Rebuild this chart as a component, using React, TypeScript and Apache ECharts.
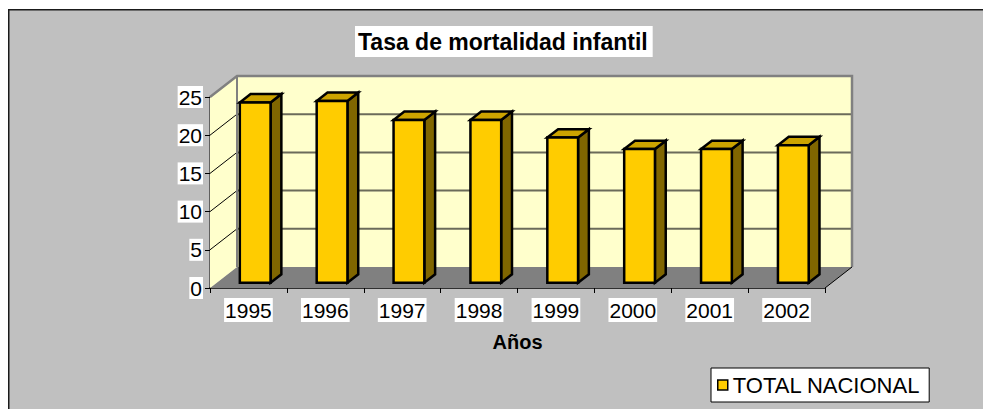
import React, { useEffect, useRef } from "react";
import * as echarts from "echarts";

const categories = ["1995", "1996", "1997", "1998", "1999", "2000", "2001", "2002"];
const values = [23.6, 23.8, 21.3, 21.3, 19.0, 17.5, 17.5, 18.0];
const yTicks = [0, 5, 10, 15, 20, 25];
const seriesName = "TOTAL NACIONAL";
const titleText = "Tasa de mortalidad infantil";
const xAxisName = "Años";

const DX = 27;
const DY = -21;
const FONT = "'Liberation Sans', Arial, sans-serif";

export default function App() {
  const ref = useRef<HTMLDivElement>(null);
  useEffect(() => {
    if (!ref.current) return;
    const chart = echarts.init(ref.current, null, { renderer: "svg" });
    const yMax = yTicks[yTicks.length - 1];

    const renderBackground = (_params: any, api: any) => {
      const band = api.size([1, 0])[0];
      const x0 = api.coord([0, 0])[0] - band / 2;
      const x1 = api.coord([categories.length - 1, 0])[0] + band / 2;
      const yOf = (v: number) => api.coord([0, v])[1];
      const y0 = yOf(0);
      const yTop = yOf(yMax);
      const children: any[] = [];
      children.push({
        type: "polygon",
        shape: { points: [[x0, y0], [x0 + DX, y0 + DY], [x1 + DX, y0 + DY], [x1, y0]] },
        style: { fill: "#808080" },
      });
      children.push({
        type: "rect",
        shape: { x: x0 + DX, y: yTop + DY, width: x1 - x0, height: y0 - yTop },
        style: { fill: "#FFFFCC" },
      });
      children.push({
        type: "polygon",
        shape: { points: [[x0, y0], [x0, yTop], [x0 + DX, yTop + DY], [x0 + DX, y0 + DY]] },
        style: { fill: "#FFFFCC" },
      });
      yTicks.forEach((v) => {
        if (v === 0) return;
        const y = yOf(v);
        if (v !== yMax) {
          children.push({
            type: "line",
            shape: { x1: x0 + DX, y1: y + DY, x2: x1 + DX, y2: y + DY },
            style: { stroke: "#6b6b5a", lineWidth: 2 },
          });
        }
        children.push({
          type: "line",
          shape: { x1: x0, y1: y, x2: x0 + DX, y2: y + DY },
          style: { stroke: "#000", lineWidth: 1 },
        });
      });
      children.push({
        type: "polyline",
        shape: { points: [[x0, yTop], [x0 + DX, yTop + DY], [x1 + DX, yTop + DY], [x1 + DX, y0 + DY]] },
        style: { stroke: "#808080", lineWidth: 2.5, fill: null },
      });
      children.push({
        type: "line",
        shape: { x1: x0 + DX, y1: yTop + DY, x2: x0 + DX, y2: y0 + DY },
        style: { stroke: "#808080", lineWidth: 2 },
      });
      children.push({
        type: "line",
        shape: { x1: x1, y1: y0, x2: x1 + DX, y2: y0 + DY },
        style: { stroke: "#000", lineWidth: 1 },
      });
      return { type: "group", children };
    };

    const renderBar = (_params: any, api: any) => {
      const i = api.value(0);
      const v = api.value(1);
      const band = api.size([1, 0])[0];
      const [cx, yb0] = api.coord([i, 0]);
      const yt0 = api.coord([i, v])[1];
      const w = band * 0.4;
      const fx = cx + DX * 0.25 - w / 2;
      const yb = yb0 + DY * 0.25;
      const yt = yt0 + DY * 0.25;
      const ddx = DX * 0.4;
      const ddy = DY * 0.4;
      const stroke = { stroke: "#000", lineWidth: 2.5, lineJoin: "miter" };
      return {
        type: "group",
        children: [
          {
            type: "polygon",
            shape: { points: [[fx + w, yt], [fx + w + ddx, yt + ddy], [fx + w + ddx, yb + ddy], [fx + w, yb]] },
            style: { fill: "#806600", ...stroke },
          },
          {
            type: "polygon",
            shape: { points: [[fx, yt], [fx + ddx, yt + ddy], [fx + w + ddx, yt + ddy], [fx + w, yt]] },
            style: { fill: "#CCA300", ...stroke },
          },
          {
            type: "rect",
            shape: { x: fx, y: yt, width: w, height: yb - yt },
            style: { fill: "#FFCC00", ...stroke },
          },
        ],
      };
    };

    chart.setOption({
      animation: false,
      backgroundColor: "#ffffff",
      textStyle: { fontFamily: FONT },
      graphic: [
        {
          type: "rect",
          z: -100,
          silent: true,
          shape: { x: 8, y: 9, width: 1100, height: 600 },
          style: { fill: "#C0C0C0" },
        },
        {
          type: "polyline",
          z: -99,
          silent: true,
          shape: { points: [[8.75, 1000], [8.75, 9.75], [1100, 9.75]] },
          style: { stroke: "#1a1a1a", lineWidth: 1.5, fill: null },
        },
      ],
      title: {
        text: titleText,
        left: 355,
        top: 26,
        padding: [4, 5, 3, 3],
        backgroundColor: "#ffffff",
        textStyle: { fontFamily: FONT, fontSize: 23, fontWeight: "bold", color: "#000", lineHeight: 24 },
      },
      legend: {
        data: [seriesName],
        left: 711,
        top: 368,
        padding: [6, 9, 6, 6],
        backgroundColor: "#ffffff",
        borderColor: "#000",
        borderWidth: 1,
        icon: "rect",
        itemWidth: 10,
        itemHeight: 10,
        itemStyle: { color: "#FFCC00", borderColor: "#000", borderWidth: 1.5 },
        textStyle: { fontFamily: FONT, fontSize: 22, color: "#000" },
      },
      grid: { left: 210, right: 158, top: 97, bottom: 121 },
      xAxis: {
        type: "category",
        data: categories,
        boundaryGap: true,
        name: xAxisName,
        nameLocation: "middle",
        nameGap: 44,
        nameTextStyle: { fontFamily: FONT, fontSize: 20, fontWeight: "bold", color: "#000" },
        axisLine: { lineStyle: { color: "#000", width: 1.5 } },
        axisTick: { show: true, length: 5, lineStyle: { color: "#000" } },
        axisLabel: {
          fontFamily: FONT,
          fontSize: 21,
          color: "#000",
          backgroundColor: "#ffffff",
          padding: [2, 1, 1, 1],
          margin: 10,
        },
        splitLine: { show: false },
      },
      yAxis: {
        type: "value",
        min: 0,
        max: yMax,
        interval: 5,
        axisLine: { show: true, lineStyle: { color: "#404040", width: 1.5 } },
        axisTick: { show: true, length: 5, lineStyle: { color: "#000" } },
        axisLabel: {
          fontFamily: FONT,
          fontSize: 21,
          color: "#000",
          backgroundColor: "#ffffff",
          padding: [1, 1, 0, 1],
          margin: 7,
        },
        splitLine: { show: false },
      },
      series: [
        {
          type: "custom",
          name: "__bg",
          z: 1,
          clip: false,
          silent: true,
          renderItem: renderBackground,
          data: [[0, 0]],
          encode: { x: 0, y: 1 },
        },
        {
          type: "custom",
          name: seriesName,
          z: 2,
          clip: false,
          itemStyle: { color: "#FFCC00", borderColor: "#000" },
          renderItem: renderBar,
          data: values.map((v, i) => [i, v]),
          encode: { x: 0, y: 1 },
        },
      ],
    });
    return () => chart.dispose();
  }, []);
  return (
    <div
      ref={ref}
      style={{ position: "fixed", left: 0, top: 0, width: 983, height: 409 }}
    />
  );
}
